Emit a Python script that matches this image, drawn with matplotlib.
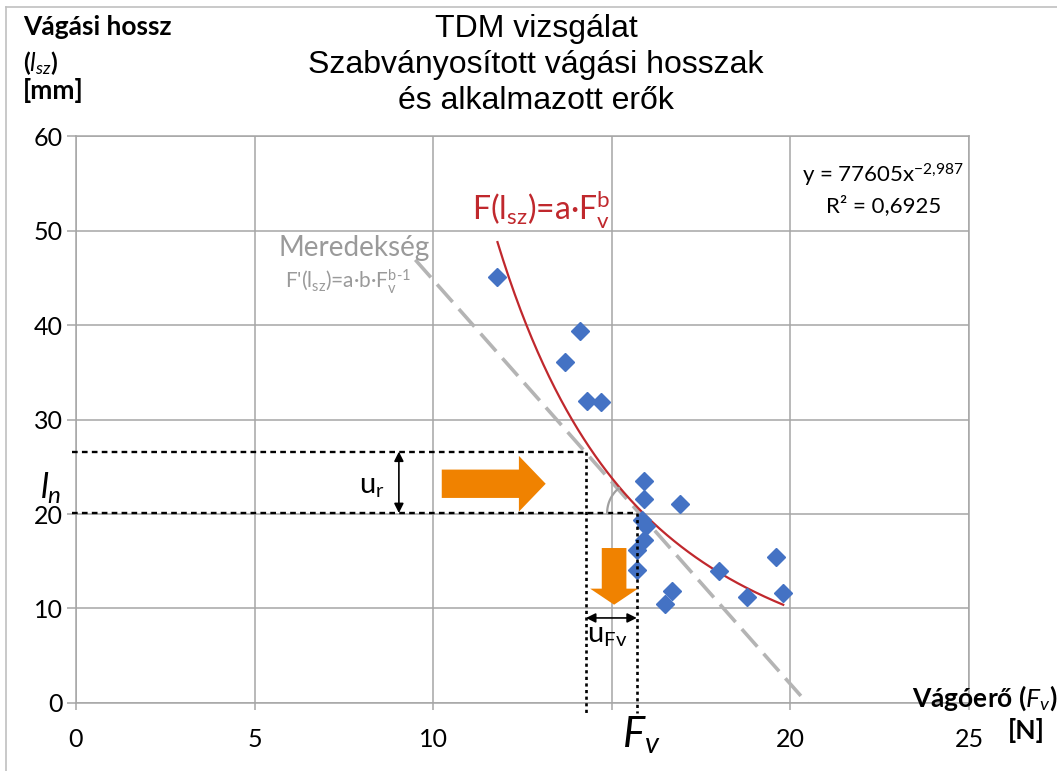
import matplotlib
matplotlib.use("Agg")
import matplotlib.pyplot as plt
from matplotlib.lines import Line2D
from matplotlib.patches import FancyArrow
import numpy as np

# ---- data ----
force_n = [11.8, 14.1, 13.7, 14.3, 14.7, 15.9, 15.9, 16.9, 15.85, 15.95,
           15.9, 15.7, 15.7, 16.7, 16.5, 18.0, 18.8, 19.6, 19.8]
length_mm = [45.1, 39.4, 36.1, 32.0, 31.8, 23.5, 21.6, 21.1, 19.4, 18.7,
             17.3, 16.2, 14.1, 11.8, 10.5, 14.0, 11.2, 15.4, 11.6]

# power trendline y = a * x^b (coefficients shown on the chart)
trend_a = 77605
trend_b = -2.987
trend_range = [11.8, 19.8]

# slope (tangent) line end points
tangent_x = [9.5, 20.47]
tangent_y = [46.9, 0.0]

# uncertainty construction
l_upper, l_lower = 26.6, 20.1
f_left, f_right = 14.28, 15.7

x_ticks = [0, 5, 10, 15, 20, 25]
y_ticks = [0, 10, 20, 30, 40, 50, 60]
x_tick_labels = ["0", "5", "10", "", "20", "25"]

FONT = "Lato"
plt.rcParams["font.family"] = [FONT, "DejaVu Sans"]
plt.rcParams["mathtext.fontset"] = "custom"
plt.rcParams["mathtext.rm"] = FONT
plt.rcParams["mathtext.it"] = FONT + ":italic"
plt.rcParams["mathtext.bf"] = FONT + ":bold"

GRID = "#a6a6a6"
BLUE = "#4472c4"
RED = "#c0282d"
ORANGE = "#f08200"
GREY_TXT = "#9a9a9a"

fig = plt.figure(figsize=(10.57, 7.71), dpi=100)
ax = fig.add_axes([0.0719, 0.0882, 0.8448, 0.7354])

ax.set_xlim(0, 25)
ax.set_ylim(0, 60)
ax.set_xticks(x_ticks)
ax.set_xticklabels(x_tick_labels)
ax.set_yticks(y_ticks)
ax.grid(True, color=GRID, lw=1.1)
ax.set_axisbelow(True)
for s in ax.spines.values():
    s.set_color(GRID)
    s.set_linewidth(1.1)
ax.tick_params(axis="x", colors=GRID, labelcolor="black", labelsize=18,
               length=5, width=1.1, pad=13)
ax.tick_params(axis="y", colors=GRID, labelcolor="black", labelsize=18,
               length=6.5, width=1.1, pad=3)

# data
ax.plot(force_n, length_mm, "D", color=BLUE, ms=9, mec=BLUE, zorder=5)

# trendline
xs = np.linspace(trend_range[0], trend_range[1], 200)
ax.plot(xs, trend_a * xs ** trend_b, color=RED, lw=1.6, zorder=4)

# tangent
ax.plot(tangent_x, tangent_y, color="#b4b4b4", lw=2.6, dashes=(6.5, 2.6),
        zorder=3)

# dashed / dotted construction lines
ax.plot([-0.1, f_left], [l_upper, l_upper], color="black", lw=1.7,
        dashes=(2.4, 1.8), clip_on=False, zorder=6)
ax.plot([-0.1, f_right], [l_lower, l_lower], color="black", lw=1.7,
        dashes=(2.4, 1.8), clip_on=False, zorder=6)
ax.plot([f_left, f_left], [l_upper, -1.1], color="black", lw=1.9,
        dashes=(1.2, 1.3), clip_on=False, zorder=6)
ax.plot([f_right, f_right], [l_lower, -1.1], color="black", lw=1.9,
        dashes=(1.2, 1.3), clip_on=False, zorder=6)

# angle arc at the tangent point
t = np.radians(np.linspace(130, 180, 40))
ax.plot(15.79 + 0.92 * np.cos(t), l_lower + 3.45 * np.sin(t),
        color="#a0a0a0", lw=1.6, zorder=6)

# double arrows
ax.annotate("", xy=(9.04, l_lower), xytext=(9.04, l_upper),
            arrowprops=dict(arrowstyle="<|-|>", color="black", lw=1.2,
                            mutation_scale=14, shrinkA=0, shrinkB=0))
ax.annotate("", xy=(f_right, 9.0), xytext=(f_left, 9.0),
            arrowprops=dict(arrowstyle="<|-|>", color="black", lw=1.2,
                            mutation_scale=14, shrinkA=0, shrinkB=0))

# orange arrows
ax.add_patch(FancyArrow(10.24, 23.2, 2.91, 0, width=3.0, head_width=5.9,
                        head_length=0.75, length_includes_head=True,
                        color=ORANGE, lw=0, zorder=7))
ax.add_patch(FancyArrow(15.065, 16.4, 0, -6.0, width=0.69, head_width=1.34,
                        head_length=1.7, length_includes_head=True,
                        color=ORANGE, lw=0, zorder=7))

# labels inside the plot
ax.text(7.93, 22.2, r"u$_{\mathrm{r}}$", fontsize=21, ha="left",
        va="baseline", zorder=8)
ax.text(14.3, 6.35, r"u$_{\mathrm{Fv}}$", fontsize=21, ha="left",
        va="baseline", zorder=8)
ax.text(11.1, 51.1, r"F(l$_{\mathrm{sz}}$)=a·F$_{\mathrm{v}}^{\mathrm{b}}$",
        color=RED, fontsize=23, ha="left", va="baseline")
ax.text(5.66, 47.3, "Meredekség", color=GREY_TXT, fontsize=20, ha="left",
        va="baseline")
ax.text(5.85, 43.9,
        "F'(l$_{\\mathrm{sz}}$)=a·b·F$_{\\mathrm{v}}^{\\mathrm{b\u20101}}$",
        color=GREY_TXT, fontsize=15, ha="left", va="baseline")
ax.text(22.6, 55.1, r"y = 77605x$^{\mathrm{-2{,}987}}$", fontsize=16,
        ha="center", va="baseline")
ax.text(22.6, 52.0, "R² = 0,6925", fontsize=16, ha="center", va="baseline")

ax.text(15.3, -4.66, r"$F_v$", fontsize=30, ha="left", va="baseline",
        clip_on=False)
ax.text(-1.0, 21.6, r"$l_n$", fontsize=25, ha="left", va="baseline",
        clip_on=False)

# titles and axis names (figure pixel positions)
W, H = 1057.0, 771.0


def ftext(px, py, s, **kw):
    fig.text(px / W, 1 - py / H, s, **kw)


title_lines = ["TDM vizsgálat", "Szabványosított vágási hosszak",
               "és alkalmazott erők"]
for i, line in enumerate(title_lines):
    ftext(536, 37 + 36 * i, line, fontsize=23, family="Liberation Sans",
          ha="center", va="baseline")

ftext(23, 35, "Vágási hossz", fontsize=19, weight="bold", va="baseline")
ftext(23, 71, r"($l_{sz}$)", fontsize=18, weight="bold", va="baseline")
ftext(23, 99, "[mm]", fontsize=19, weight="bold", va="baseline")
ftext(912, 707, r"Vágóerő ($F_v$)", fontsize=19, weight="bold",
      va="baseline")
ftext(1008, 739, "[N]", fontsize=19, weight="bold", va="baseline")

# frame of the original picture
fig.add_artist(Line2D([6 / W, 1], [1 - 7 / H, 1 - 7 / H], color="#c0c0c0",
                      lw=1.2))
fig.add_artist(Line2D([6 / W, 6 / W], [0, 1 - 7 / H], color="#c0c0c0",
                      lw=1.2))

fig.savefig("out.png", dpi=100)
